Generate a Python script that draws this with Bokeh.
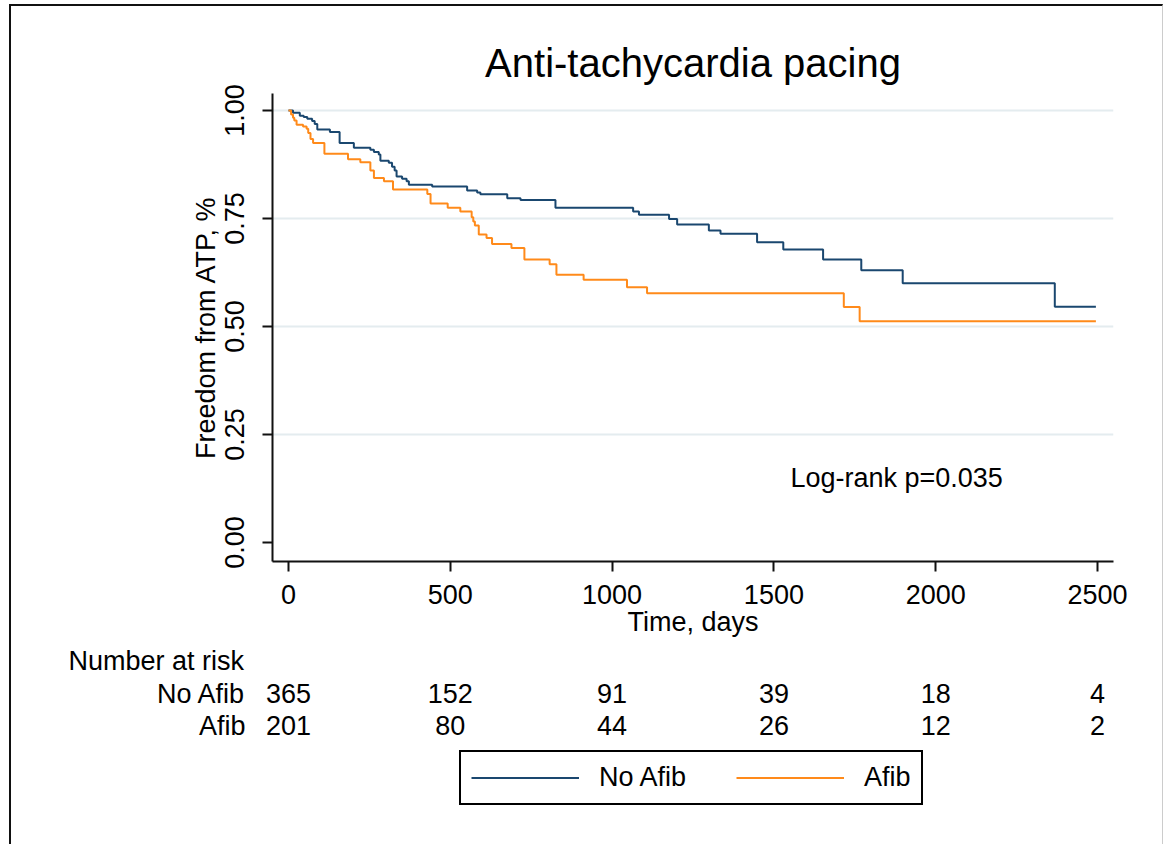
from bokeh.plotting import figure
from bokeh.layouts import column
from bokeh.models import Range1d, FixedTicker, Label, Legend, LegendItem, PrintfTickFormatter
from bokeh.core.properties import value
from bokeh.embed import file_html
from bokeh.resources import INLINE

# ---- data ----
t_noafib = [0, 14, 35, 47, 58, 73, 81, 89, 128, 158, 202, 253, 264, 279, 284, 310, 320, 328, 334,
            351, 365, 372, 444, 552, 583, 593, 676, 717, 825, 1065, 1083, 1176, 1201, 1299, 1335,
            1448, 1529, 1652, 1770, 1898, 2368, 2495]
s_noafib = [1.0, 0.995, 0.988, 0.985, 0.981, 0.976, 0.969, 0.956, 0.950, 0.925, 0.914, 0.909, 0.904,
            0.898, 0.884, 0.879, 0.870, 0.861, 0.847, 0.842, 0.836, 0.828, 0.824, 0.815, 0.810, 0.806,
            0.797, 0.793, 0.775, 0.766, 0.759, 0.749, 0.736, 0.722, 0.715, 0.695, 0.678, 0.655, 0.630,
            0.600, 0.546, 0.546]
t_afib = [0, 8, 14, 18, 25, 45, 56, 61, 68, 76, 111, 184, 222, 253, 264, 295, 323, 429, 439, 492,
          531, 566, 571, 576, 588, 612, 629, 689, 729, 807, 828, 912, 1046, 1108, 1716, 1765, 2495]
s_afib = [1.0, 0.991, 0.983, 0.977, 0.967, 0.963, 0.958, 0.948, 0.934, 0.925, 0.900, 0.887, 0.880,
          0.861, 0.844, 0.836, 0.817, 0.807, 0.785, 0.775, 0.766, 0.753, 0.743, 0.734, 0.713, 0.705,
          0.691, 0.682, 0.655, 0.644, 0.620, 0.608, 0.591, 0.577, 0.545, 0.512, 0.512]

x_ticks = [0, 500, 1000, 1500, 2000, 2500]
y_ticks = [0.0, 0.25, 0.5, 0.75, 1.0]
grid_ticks = [0.25, 0.5, 0.75, 1.0]
group_names = ["No Afib", "Afib"]
risk_noafib = [365, 152, 91, 39, 18, 4]
risk_afib = [201, 80, 44, 26, 12, 2]
title_text = "Anti-tachycardia pacing"
x_label = "Time, days"
y_label = "Freedom from ATP, %"
note_text = "Log-rank p=0.035"
risk_header = "Number at risk"

FONT = "Liberation Sans"
NAVY = "#1a476f"
ORANGE = "#ff8a1a"
FS = "27px"

# ---------------- main survival plot ----------------
p = figure(width=1151, height=634, output_backend="svg", toolbar_location=None,
           x_range=Range1d(-49.4, 2549.4), y_range=Range1d(-0.044, 1.0394),
           min_border_left=261, min_border_right=49, min_border_top=87, min_border_bottom=79)
p.frame_align = False
p.outline_line_color = None
p.background_fill_color = "white"
p.border_fill_color = "white"

p.title.text = title_text
p.title.align = "center"
p.title.text_font = FONT
p.title.text_font_size = "40px"
p.title.text_font_style = "normal"
p.title.text_color = "black"
p.title.standoff = 18

r1 = p.step(t_noafib, s_noafib, mode="after", line_color=NAVY, line_width=2)
r2 = p.step(t_afib, s_afib, mode="after", line_color=ORANGE, line_width=2)

for ax in (p.xaxis[0], p.yaxis[0]):
    ax.axis_line_color = "#111"
    ax.axis_line_width = 2
    ax.major_tick_line_color = "#111"
    ax.major_tick_line_width = 2
    ax.major_tick_in = 0
    ax.major_tick_out = 10
    ax.minor_tick_line_color = None
    ax.major_label_text_font = FONT
    ax.major_label_text_font_size = FS
    ax.major_label_text_color = "black"
    ax.axis_label_text_font = FONT
    ax.axis_label_text_font_size = FS
    ax.axis_label_text_font_style = "normal"
    ax.axis_label_text_color = "black"

p.xaxis.ticker = FixedTicker(ticks=x_ticks)
p.xaxis.axis_label = x_label
p.xaxis.major_label_standoff = 13
p.xaxis.axis_label_standoff = 0

p.yaxis.ticker = FixedTicker(ticks=y_ticks)
p.yaxis.formatter = PrintfTickFormatter(format="%.2f")
p.yaxis.major_label_orientation = "vertical"
p.yaxis.axis_label = y_label
p.yaxis.major_label_standoff = 18
p.yaxis.axis_label_standoff = 2

p.xgrid.grid_line_color = None
p.ygrid.ticker = FixedTicker(ticks=grid_ticks)
p.ygrid.grid_line_color = "#e4ecef"
p.ygrid.grid_line_width = 2

p.add_layout(Label(x=1551, y=0.150, text=note_text, text_font=FONT, text_font_size=FS,
                   text_align="left", text_baseline="middle", text_color="black"))

# ---------------- risk table + legend (same day scale) ----------------
# rows are placed at negative y (pixels below a point 20 px above the panel top)
q = figure(width=1151, height=204, output_backend="svg", toolbar_location=None,
           x_range=Range1d(-856.0, 2700.9), y_range=Range1d(-224, -20),
           x_axis_type=None, y_axis_type=None,
           min_border_left=0, min_border_right=0, min_border_top=0, min_border_bottom=0)
q.frame_align = False
q.outline_line_color = None
q.xgrid.grid_line_color = None
q.ygrid.grid_line_color = None
q.background_fill_color = "white"
q.border_fill_color = "white"

row_header_y = -40
rows_y = [-73, -105]
q.text(x=[-680], y=[row_header_y], text=[risk_header], text_align="left", text_baseline="middle",
       text_font=value(FONT), text_font_size=value(FS), text_color="black")
for name, counts, yy in zip(group_names, [risk_noafib, risk_afib], rows_y):
    q.text(x=[-133], y=[yy], text=[name], text_align="right", text_baseline="middle",
           text_font=value(FONT), text_font_size=value(FS), text_color="black")
    q.text(x=x_ticks, y=[yy] * len(x_ticks), text=[str(c) for c in counts],
           text_align="center", text_baseline="middle",
           text_font=value(FONT), text_font_size=value(FS), text_color="black")

# legend proxies: the same curves, which fall outside this panel's visible window
l1 = q.step(t_noafib, s_noafib, mode="after", line_color=NAVY, line_width=2)
l2 = q.step(t_afib, s_afib, mode="after", line_color=ORANGE, line_width=2)
legend = Legend(items=[LegendItem(label=group_names[0], renderers=[l1]),
                       LegendItem(label=group_names[1], renderers=[l2])],
                orientation="horizontal", location=(448, 39))
legend.label_text_font = FONT
legend.label_text_font_size = FS
legend.label_text_color = "black"
legend.glyph_width = 108
legend.glyph_height = 27
legend.label_standoff = 20
legend.spacing = 50
legend.padding = 10
legend.margin = 0
legend.border_line_color = "black"
legend.border_line_alpha = 1
legend.border_line_width = 2
legend.background_fill_color = "white"
legend.background_fill_alpha = 1
q.add_layout(legend, "center")

layout = column(p, q, spacing=0)
layout.styles = {"margin-left": "9px", "margin-top": "4px",
                 "border-left": "2px solid #111", "border-top": "2px solid #111",
                 "border-right": "1px solid #ccc"}

open("out.html", "w").write(file_html(layout, INLINE))
